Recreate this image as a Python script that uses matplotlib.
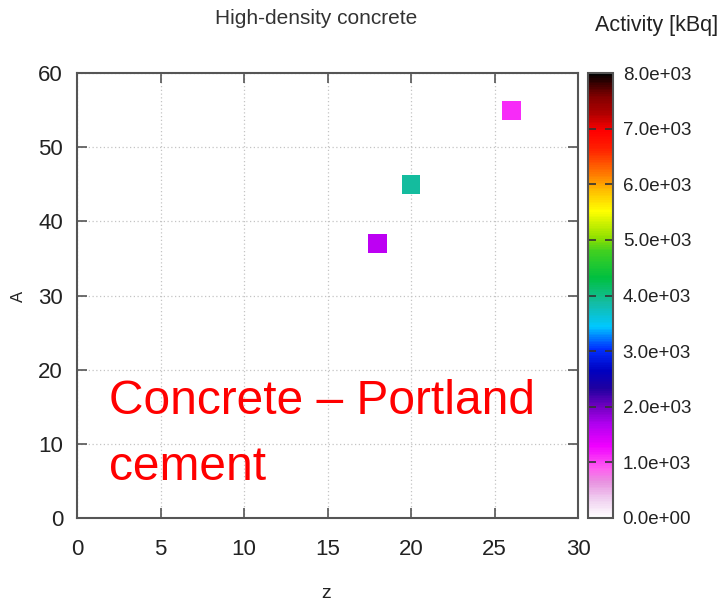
import matplotlib
matplotlib.use("Agg")
import matplotlib.pyplot as plt
import numpy as np
from matplotlib.colors import LinearSegmentedColormap

# Data
z_vals = [18, 20, 26]
a_vals = [37, 45, 55]
activity = [1600, 3880, 1120]
x_ticks = [0, 5, 10, 15, 20, 25, 30]
y_ticks = [0, 10, 20, 30, 40, 50, 60]
cb_ticks = [0, 1000, 2000, 3000, 4000, 5000, 6000, 7000, 8000]

plt.rcParams['font.family'] = ['Liberation Sans', 'DejaVu Sans']

stops = [
    (0.00, "#ffffff"), (0.04, "#f0d0f0"), (0.08, "#e890e0"), (0.11, "#ff5ef0"),
    (0.16, "#f000ff"), (0.21, "#b000f0"), (0.25, "#7000c0"), (0.29, "#2000a0"),
    (0.33, "#0000c0"), (0.38, "#0030ff"), (0.43, "#00c8ff"), (0.485, "#14bca0"),
    (0.54, "#00c040"), (0.60, "#40d020"), (0.63, "#90e000"), (0.69, "#ffff00"),
    (0.735, "#ffc000"), (0.77, "#ff8000"), (0.83, "#ff2000"), (0.87, "#ff0000"),
    (0.91, "#b00000"), (0.95, "#800000"), (1.00, "#000000"),
]
cmap = LinearSegmentedColormap.from_list("gp", stops)

fig = plt.figure(figsize=(7.23, 6.03), dpi=100)
ax = fig.add_axes([77/723, 1-518/603, 501/723, 445/603])
cax = fig.add_axes([588/723, 1-518/603, 25/723, 445/603])

sc = ax.scatter(z_vals, a_vals, c=activity, cmap=cmap, vmin=0, vmax=8000,
                marker='s', s=185, edgecolors='none', zorder=3)

ax.set_xlim(0, 30)
ax.set_ylim(0, 60)
ax.set_xticks(x_ticks)
ax.set_yticks(y_ticks)
ax.tick_params(direction='in', top=True, right=True, length=7, width=1.2,
               color='#555555', labelsize=16, labelcolor='#222222')
ax.tick_params(axis='x', pad=15)
ax.tick_params(axis='y', pad=10)
ax.grid(True, linestyle=(0, (1, 2)), color='#c4c4c4', linewidth=0.9)
for s in ax.spines.values():
    s.set_color('#555555')
    s.set_linewidth(1.5)

cb = fig.colorbar(sc, cax=cax, ticks=cb_ticks)
cb.ax.set_yticklabels([f"{t:.1e}" for t in cb_ticks])
cb.ax.tick_params(direction='in', length=6, width=1.2, color='#333333',
                  labelsize=13.5, labelcolor='#222222', right=True, left=True, pad=7)
cb.outline.set_edgecolor('#555555')
cb.outline.set_linewidth(1.5)

fig.text(316/723, 1-18/603, "High-density concrete", ha='center', va='center',
         fontsize=15, color='#333333')
fig.text(657/723, 1-25/603, "Activity [kBq]", ha='center', va='center',
         fontsize=15.5, color='#222222')
fig.text(18/723, 1-296/603, "A", ha='center', va='center', rotation=90,
         fontsize=12, color='#222222')
fig.text(326/723, 1-593/603, "z", ha='center', va='center',
         fontsize=14, color='#222222')
fig.text(109/723, 1-402/603, "Concrete \u2013 Portland", ha='left', va='center',
         fontsize=34.5, color='#ff0000')
fig.text(109/723, 1-467/603, "cement", ha='left', va='center',
         fontsize=34.5, color='#ff0000')

fig.savefig("out.png", dpi=100)
